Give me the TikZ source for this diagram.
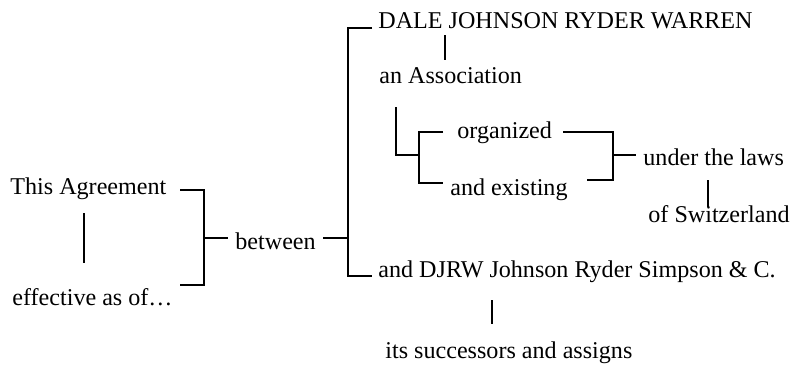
\documentclass[tikz,border=0pt]{standalone}
\usepackage{fontspec}
\setmainfont{Liberation Serif}
\begin{document}
\begin{tikzpicture}[x=0.5pt,y=-0.5pt,
    txt/.style = {anchor=base west,inner sep=0pt,font=\fontsize{12.05}{14}\selectfont},
    link/.style = {draw=black,line width=1pt}]
\useasboundingbox (0,0) rectangle (794,365);
% texts
\node[txt] (agree)   at (10,194)  {This Agreement};
\node[txt] (eff)     at (12,305)  {effective as of…};
\node[txt] (between) at (235,249) {between};
\node[txt] (dale)    at (378,28)  {DALE JOHNSON RYDER WARREN};
\node[txt] (assoc)   at (379,83)  {an Association};
\node[txt] (org)     at (457,138) {organized};
\node[txt] (exist)   at (450,195) {and existing};
\node[txt] (laws)    at (643,165) {under the laws};
\node[txt] (swiss)   at (648,222) {of Switzerland};
\node[txt] (djrw)    at (378,277) {and DJRW Johnson Ryder Simpson \& C.};
\node[txt] (succ)    at (385,358) {its successors and assigns};
% bracket ends
\coordinate (lbTop)   at (180,190);
\coordinate (lbBot)   at (180,285);
\coordinate (lbSpine) at (204,238);
\coordinate (lbOut)   at (228,238);
\coordinate (bbTop)   at (372,28);
\coordinate (bbBot)   at (372,276);
\coordinate (bbSpine) at (348,238);
\coordinate (bbIn)    at (323,238);
\coordinate (ogTop)   at (443,132);
\coordinate (ogBot)   at (443,183);
\coordinate (ogSpine) at (419,155);
\coordinate (asTick)  at (396,107);
\coordinate (rbTop)   at (563,132);
\coordinate (rbBot)   at (587,180);
\coordinate (rbSpine) at (613,155);
\coordinate (rbOut)   at (636,155);
% brackets
\draw[link] (lbTop) -| (lbSpine) |- (lbBot);
\draw[link] (lbSpine) -- (lbOut);
\draw[link] (bbTop) -| (bbSpine) |- (bbBot);
\draw[link] (bbIn) -- (bbSpine);
\draw[link] (ogTop) -| (ogSpine) |- (ogBot);
\draw[link] (asTick) |- (ogSpine);
\draw[link] (rbTop) -| (rbSpine) |- (rbBot);
\draw[link] (rbSpine) -- (rbOut);
% ticks
\foreach \x/\ya/\yb in {84/213/263, 445/35/60, 708/180/207, 492/300/324}
    \draw[link] (\x,\ya) -- (\x,\yb);
\end{tikzpicture}
\end{document}
